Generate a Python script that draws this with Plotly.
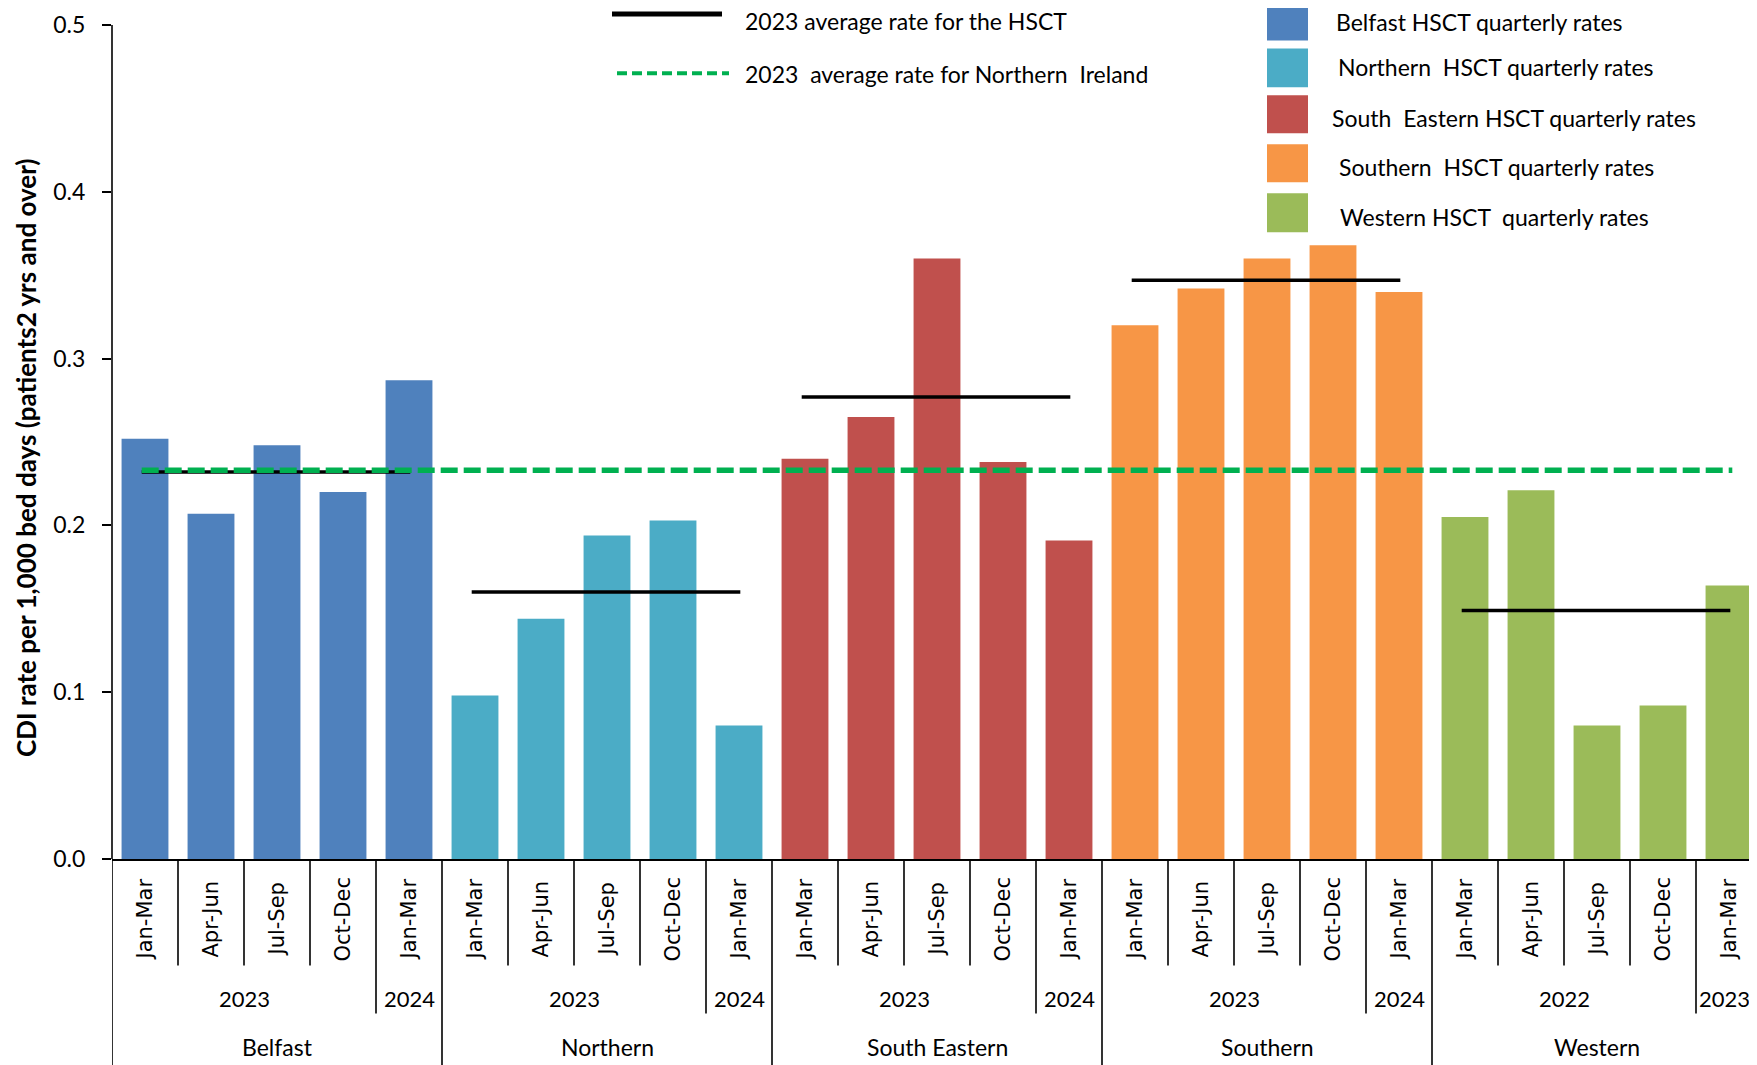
import numpy as np
import plotly.graph_objects as go

# The page body has an 8px margin; figure is sized so screen coords match the target.
OFF = 8
# target screen coordinates of the plot area
X0, X1 = 112, 1762     # left / right of plot area
Y0, Y1 = 24.6, 859.4   # top (0.5) / bottom (0.0)
W, H = X1 + 1 - OFF, 1065 - OFF
ML, MR = X0 - OFF, 1
MT, MB = Y0 - OFF, (1065 - Y1)

trusts = ["Belfast", "Northern", "South Eastern", "Southern", "Western"]
colors = ["#4F81BD", "#4BACC6", "#C0504D", "#F79646", "#9BBB59"]
quarters = ["Jan-Mar", "Apr-Jun", "Jul-Sep", "Oct-Dec", "Jan-Mar"]
year_labels = [["2023", "2024"], ["2023", "2024"], ["2023", "2024"], ["2023", "2024"], ["2022", "2023"]]

belfast = [0.252, 0.207, 0.248, 0.220, 0.287]
northern = [0.098, 0.144, 0.194, 0.203, 0.080]
south_eastern = [0.240, 0.265, 0.360, 0.238, 0.191]
southern = [0.320, 0.342, 0.360, 0.368, 0.340]
western = [0.205, 0.221, 0.080, 0.092, 0.164]
series = [belfast, northern, south_eastern, southern, western]

hsct_avg = [0.232, 0.160, 0.277, 0.347, 0.149]
ni_avg = 0.233

y_ticks = [0.0, 0.1, 0.2, 0.3, 0.4, 0.5]
y_title = "CDI rate per 1,000 bed days (patients2 yrs and over)"
legend_line_labels = ["2023 average rate for the HSCT", "2023  average rate for Northern  Ireland"]
legend_bar_labels = ["Belfast HSCT quarterly rates", "Northern  HSCT quarterly rates",
                     "South  Eastern HSCT quarterly rates", "Southern  HSCT quarterly rates",
                     "Western HSCT  quarterly rates"]

FONT = "Lato"
PW = X1 - X0
PH = Y1 - Y0


def px_x(p):
    return (p - X0) / PW


def px_y(p):
    return (Y1 - p) / PH


fig = go.Figure()
n_q = len(quarters)

for g, (name, vals, col) in enumerate(zip(trusts, series, colors)):
    xs = [g * n_q + i for i in range(len(vals))]
    fig.add_trace(go.Bar(x=xs, y=vals, marker=dict(color=col, line=dict(width=0)),
                         width=0.71, name=name + " HSCT quarterly rates", showlegend=False))

for g, avg in enumerate(hsct_avg):
    fig.add_trace(go.Scatter(x=[g * n_q - 0.05, g * n_q + n_q - 1 + 0.02], y=[avg, avg], mode="lines",
                             line=dict(color="black", width=3.5), showlegend=False,
                             name="2023 average rate for the HSCT"))

n_total = len(trusts) * n_q
fig.add_trace(go.Scatter(x=[-0.05, n_total - 1 + 0.05], y=[ni_avg, ni_avg], mode="lines",
                         line=dict(color="#00B050", width=5.5, dash="17px,6px"), showlegend=False,
                         name="2023 average rate for Northern Ireland"))

shapes = []
annotations = []
line_style = dict(color="black", width=1.6)
n_groups = len(trusts)
for g in range(n_groups):
    for i, q in enumerate(quarters):
        x = g * n_q + i
        annotations.append(dict(x=x, y=px_y(920), xref="x", yref="paper", text=q, textangle=-90,
                                showarrow=False, xanchor="center", yanchor="middle",
                                font=dict(family="DejaVu Sans", size=21, color="black")))
        if i > 0 and i != n_q - 1:
            shapes.append(dict(type="line", xref="x", yref="paper", x0=x - 0.5, x1=x - 0.5,
                               y0=0, y1=px_y(966), line=line_style))
    xd = g * n_q + n_q - 1.5
    shapes.append(dict(type="line", xref="x", yref="paper", x0=xd, x1=xd, y0=0, y1=px_y(1014),
                       line=line_style))
    annotations.append(dict(x=g * n_q + 1.5, y=px_y(999), xref="x", yref="paper",
                            text=year_labels[g][0], showarrow=False, xanchor="center",
                            yanchor="middle", font=dict(family=FONT, size=22, color="black")))
    annotations.append(dict(x=g * n_q + 4, y=px_y(999), xref="x", yref="paper",
                            text=year_labels[g][1], showarrow=False, xanchor="center",
                            xshift=-5 if g == n_groups - 1 else 0,
                            yanchor="middle", font=dict(family=FONT, size=22, color="black")))
    annotations.append(dict(x=g * n_q + 2, y=px_y(1048), xref="x", yref="paper",
                            text=trusts[g], showarrow=False, xanchor="center",
                            yanchor="middle", font=dict(family=FONT, size=23, color="black")))
    xg = g * n_q - 0.5
    shapes.append(dict(type="line", xref="x", yref="paper", x0=xg, x1=xg, y0=0,
                       y1=px_y(1070), line=line_style))

# y-axis line extended to the top
shapes.append(dict(type="line", xref="paper", yref="paper", x0=0, x1=0, y0=0, y1=1,
                   line=line_style))

annotations.append(dict(x=px_x(26), y=px_y(458), xref="paper", yref="paper", text="<b>" + y_title + "</b>",
                        textangle=-90, showarrow=False, xanchor="center", yanchor="middle",
                        font=dict(family=FONT, size=26, color="black")))

# legend: lines
shapes.append(dict(type="line", xref="paper", yref="paper", x0=px_x(612), x1=px_x(722),
                   y0=px_y(13.5), y1=px_y(13.5), line=dict(color="black", width=5)))
shapes.append(dict(type="line", xref="paper", yref="paper", x0=px_x(617), x1=px_x(729),
                   y0=px_y(73), y1=px_y(73), line=dict(color="#00B050", width=4, dash="10px,5px")))
for lab, yy in zip(legend_line_labels, [21, 74]):
    annotations.append(dict(x=px_x(743), y=px_y(yy), xref="paper", yref="paper", text=lab,
                            showarrow=False, xanchor="left", yanchor="middle",
                            font=dict(family=FONT, size=23, color="black")))

# legend: bars
sw_y = [(7, 40), (48, 87), (95, 133), (144, 182), (193, 232)]
tx = [(1334, 22), (1336, 67), (1330, 118), (1337, 167), (1338, 217)]
for col, lab, (y0, y1), (xt, yt) in zip(colors, legend_bar_labels, sw_y, tx):
    shapes.append(dict(type="rect", xref="paper", yref="paper", x0=px_x(1267), x1=px_x(1308),
                       y0=px_y(y1), y1=px_y(y0), fillcolor=col, line=dict(width=0)))
    annotations.append(dict(x=px_x(xt), y=px_y(yt), xref="paper", yref="paper", text=lab,
                            showarrow=False, xanchor="left", yanchor="middle",
                            font=dict(family=FONT, size=23, color="black")))

fig.update_layout(
    width=W, height=H,
    margin=dict(l=ML, r=MR, t=MT, b=MB, pad=0),
    plot_bgcolor="white", paper_bgcolor="white",
    showlegend=False,
    shapes=shapes, annotations=annotations,
    xaxis=dict(range=[-0.5, n_total - 0.5], showticklabels=False, showgrid=False, zeroline=False,
               showline=True, linecolor="black", linewidth=1.6, ticks=""),
    yaxis=dict(range=[0, 0.5], tickvals=y_ticks, tickformat=".1f", showgrid=False, zeroline=False,
               showline=False, ticks="outside", ticklen=9, tickwidth=1.6, ticklabelstandoff=12,
               tickcolor="black", tickfont=dict(family=FONT, size=23, color="black")),
    bargap=0.29,
)

fig.write_html("out.html")
